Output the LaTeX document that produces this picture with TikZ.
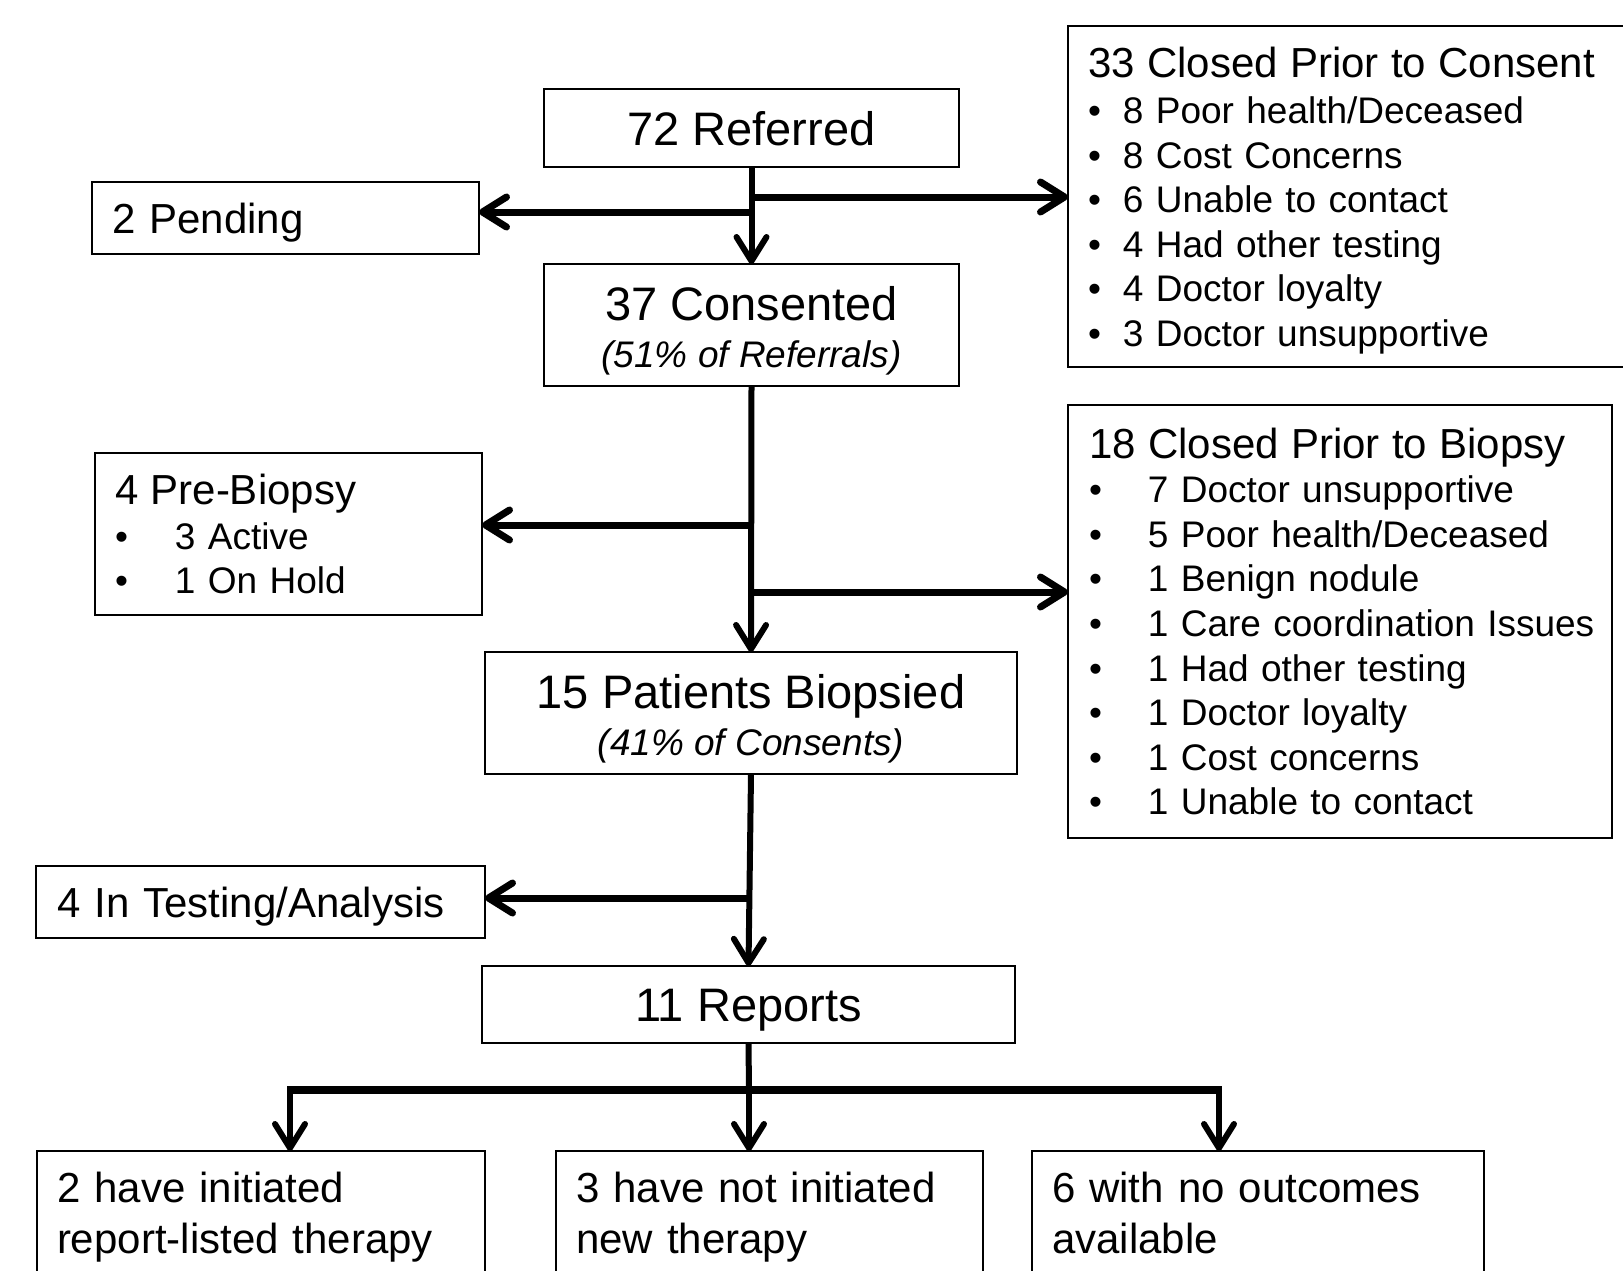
\documentclass[tikz,border=0pt]{standalone}
\usepackage{fontspec}
\setmainfont{Liberation Sans}
\usetikzlibrary{arrows.meta}
\newcommand{\fbig}{\fontsize{47}{47}\selectfont}
\newcommand{\fmid}{\fontsize{42}{45}\selectfont}
\newcommand{\fsml}{\fontsize{37}{44.6}\selectfont}
\newcommand{\bul}[2]{\mbox{\makebox[#1][l]{•}#2}}
\newcommand{\topstrut}[1]{\rule{0pt}{#1}}
\newcommand{\botstrut}{\rule[-10pt]{0pt}{10pt}}
\tikzset{
  box/.style={draw, line width=2pt, rectangle, inner ysep=0pt, outer sep=0pt, anchor=north west},
  vline/.style={line width=6pt},
  hline/.style={line width=7pt},
  barline/.style={line width=8.5pt},
  tip/.style={-{Straight Barb[length=24pt,width=30pt,round]}},
}
\begin{document}
\begin{tikzpicture}[x=1pt,y=-1pt]
\useasboundingbox[fill=white] (0,0) rectangle (1623,1270);

% boxes
\node[box, minimum width=415pt, minimum height=78pt, inner xsep=0pt, font=\fbig, text height=34pt, text depth=0pt] (ref) at (544,89) {72 Referred};
\node[box, minimum width=387pt, minimum height=72pt, inner xsep=20pt, text width=347pt, align=left, font=\fmid, text height=30pt, text depth=0pt] (pend) at (92,182) {2 Pending};
\node[box, minimum width=562pt, minimum height=341pt, inner xsep=20pt, text width=522pt, align=left, font=\fsml] (c1) at (1068,26)
  {{\fmid\topstrut{39pt}33 Closed Prior to Consent}\\[1pt]
   \bul{35pt}{8 Poor health/Deceased}\\
   \bul{35pt}{8 Cost Concerns}\\
   \bul{35pt}{6 Unable to contact}\\
   \bul{35pt}{4 Had other testing}\\
   \bul{35pt}{4 Doctor loyalty}\\
   \bul{35pt}{3 Doctor unsupportive}};
\node[box, minimum width=415pt, minimum height=122pt, inner xsep=0pt, align=center, font=\fbig] (cons) at (544,264)
  {\topstrut{45pt}37 Consented\\{\fsml\itshape (51\% of Referrals)}};
\node[box, minimum width=387pt, minimum height=162pt, inner xsep=20pt, text width=347pt, align=left, font=\fsml] (pre) at (95,453)
  {{\fmid 4 Pre-Biopsy}\\
   \bul{60pt}{3 Active}\\
   \bul{60pt}{1 On Hold}};
\node[box, minimum width=544pt, minimum height=433pt, inner xsep=21pt, text width=502pt, align=left, font=\fsml] (c2) at (1068,405)
  {{\fmid 18 Closed Prior to Biopsy}\\
   \bul{59pt}{7 Doctor unsupportive}\\
   \bul{59pt}{5 Poor health/Deceased}\\
   \bul{59pt}{1 Benign nodule}\\
   \bul{59pt}{1 Care coordination Issues}\\
   \bul{59pt}{1 Had other testing}\\
   \bul{59pt}{1 Doctor loyalty}\\
   \bul{59pt}{1 Cost concerns}\\
   \bul{59pt}{1 Unable to contact}};
\node[box, minimum width=532pt, minimum height=122pt, inner xsep=0pt, align=center, font=\fbig] (biop) at (485,652)
  {\topstrut{45pt}15 Patients Biopsied\\{\fsml\itshape (41\% of Consents)}};
\node[box, minimum width=449pt, minimum height=72pt, inner xsep=21pt, text width=407pt, align=left, font=\fmid, text height=30pt, text depth=0pt] (test) at (36,866) {4 In Testing/Analysis};
\node[box, minimum width=533pt, minimum height=77pt, inner xsep=0pt, font=\fbig, text height=34pt, text depth=0pt] (rep) at (482,966) {11 Reports};
\node[box, minimum width=448pt, minimum height=133pt, inner xsep=20pt, text width=408pt, align=left, font={\fontsize{42}{51}\selectfont}] (o1) at (37,1151)
  {\topstrut{31pt}2 have initiated\\report-listed therapy\botstrut};
\node[box, minimum width=427pt, minimum height=133pt, inner xsep=20pt, text width=387pt, align=left, font={\fontsize{42}{51}\selectfont}] (o2) at (556,1151)
  {\topstrut{31pt}3 have not initiated\\new therapy\botstrut};
\node[box, minimum width=452pt, minimum height=133pt, inner xsep=20pt, text width=412pt, align=left, font={\fontsize{42}{51}\selectfont}] (o3) at (1032,1151)
  {\topstrut{31pt}6 with no outcomes\\available\botstrut};

% junction coordinates
\coordinate (jpend) at (752,212);
\coordinate (jc1) at (752,197);
\coordinate (jpre) at (752,525);
\coordinate (jc2) at (752,592);
\coordinate (jtest) at (750,898);
\coordinate (bm) at (749,1090);
\coordinate (bl) at (290,1090);
\coordinate (br) at (1219,1090);

% connectors
\draw[vline, tip] (ref.south) -- (cons.north);
\draw[hline, tip] (jpend) -- (jpend -| pend.east);
\draw[hline, tip] (jc1) -- (jc1 -| c1.west);
\draw[vline, tip] (cons.south) -- (biop.north);
\draw[hline, tip] (jpre) -- (jpre -| pre.east);
\draw[hline, tip] (jc2) -- (jc2 -| c2.west);
\draw[vline, tip] (biop.south) -- (rep.north);
\draw[hline, tip] (jtest) -- (jtest -| test.east);
\draw[vline] (rep.south) -- (bm);
\draw[barline] ([xshift=-3pt]bl) -- ([xshift=3pt]br);
\draw[vline, tip] (bl) -- (bl |- o1.north);
\draw[vline, tip] (bm) -- (bm |- o2.north);
\draw[vline, tip] (br) -- (br |- o3.north);
\end{tikzpicture}
\end{document}
